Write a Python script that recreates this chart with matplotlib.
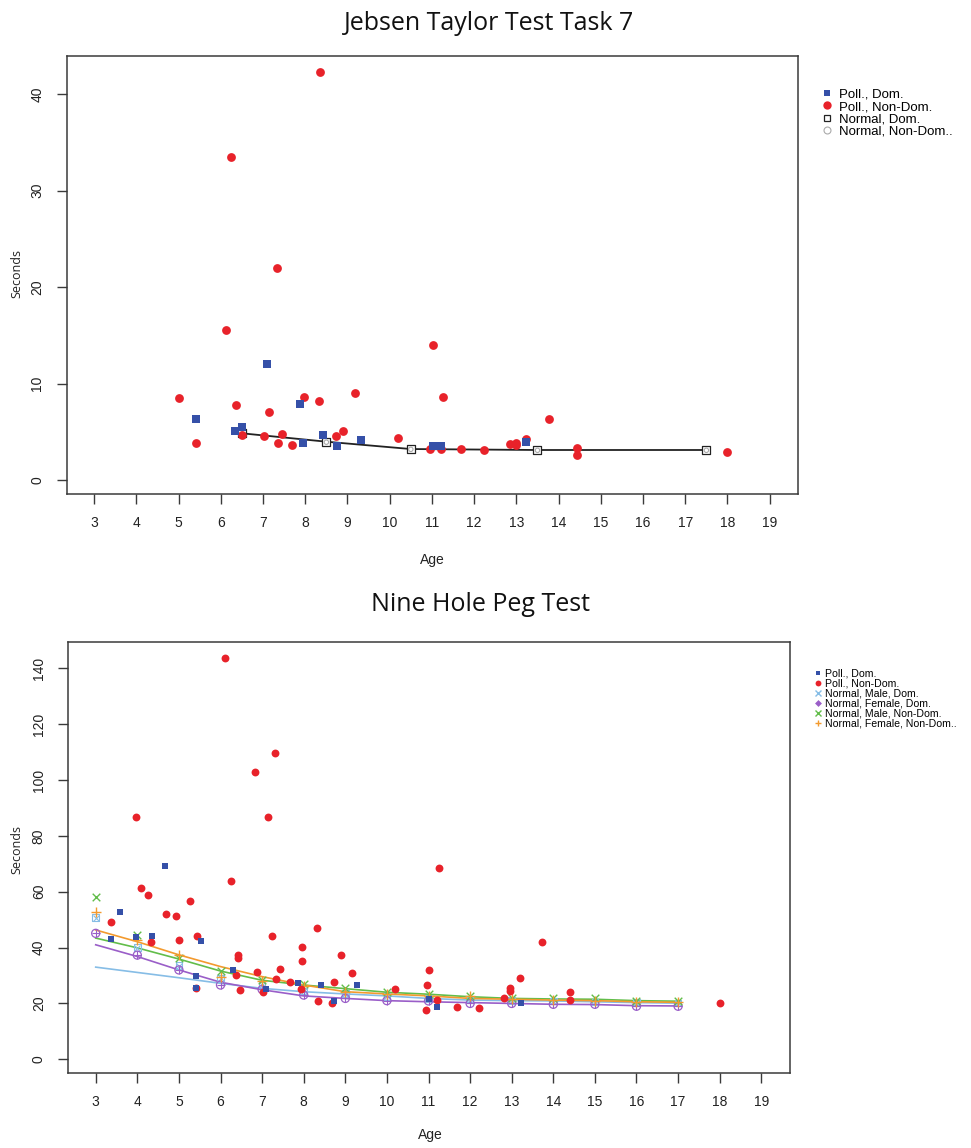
import matplotlib
matplotlib.use("Agg")
import matplotlib.pyplot as plt
from matplotlib.lines import Line2D

# ---------------- data: Jebsen Taylor Test Task 7 ----------------
jt_poll_dom_age = [7.10, 5.42, 7.87, 6.33, 6.49, 8.43, 7.95, 8.74, 9.33, 11.03, 11.22, 13.23]
jt_poll_dom_sec = [12.06, 6.29, 7.84, 5.11, 5.46, 4.70, 3.83, 3.49, 4.18, 3.49, 3.49, 3.91]

jt_poll_nondom_age = [8.36, 6.25, 7.32, 6.12, 11.02, 5.01, 11.26, 7.96, 8.32, 9.17, 6.35, 7.15,
                      5.42, 6.49, 7.02, 7.44, 7.35, 7.68, 8.73, 8.90, 10.19, 10.96, 11.22, 11.69,
                      12.23, 12.85, 12.99, 12.98, 13.23, 13.77, 14.44, 14.44, 17.99]
jt_poll_nondom_sec = [42.25, 33.47, 21.93, 15.58, 14.02, 8.46, 8.57, 8.57, 8.15, 8.98, 7.74, 7.08,
                      3.87, 4.66, 4.56, 4.80, 3.83, 3.59, 4.56, 5.08, 4.39, 3.21, 3.21, 3.25,
                      3.11, 3.69, 3.80, 3.60, 4.21, 6.29, 3.28, 2.56, 2.90]

jt_norm_age = [6.5, 8.5, 10.5, 13.5, 17.5]
jt_norm_dom_sec = [4.84, 3.97, 3.21, 3.11, 3.11]
jt_norm_nondom_sec = [4.75, 3.92, 3.18, 3.08, 3.08]

# ---------------- data: Nine Hole Peg Test ----------------
nh_poll_dom_age = [4.66, 3.59, 3.36, 3.97, 4.35, 5.54, 6.31, 5.41, 5.42, 7.86, 7.10, 8.42,
                   8.73, 9.29, 11.02, 11.20, 13.22]
nh_poll_dom_sec = [69.1, 52.6, 43.2, 43.7, 44.3, 42.2, 32.1, 29.7, 25.7, 27.3, 25.3, 26.6,
                   21.0, 26.6, 21.7, 18.6, 20.3]

nh_poll_nondom_age = [6.10, 7.32, 6.83, 3.97, 7.14, 6.25, 4.10, 4.25, 5.26, 4.70, 4.92, 3.36,
                      8.31, 7.24, 5.44, 4.34, 5.01, 7.96, 6.43, 6.42, 8.89, 7.96, 7.42, 6.88,
                      9.17, 6.38, 7.34, 7.66, 7.94, 6.48, 7.01, 8.34, 8.69, 5.42, 8.74,
                      11.26, 10.19, 11.02, 10.96, 10.93, 11.21, 11.68, 12.22, 13.74, 13.21,
                      12.97, 12.96, 12.82, 14.41, 14.41, 18.0]
nh_poll_nondom_sec = [143.8, 109.8, 102.9, 86.9, 86.9, 63.8, 61.2, 59.0, 56.7, 52.0, 51.4, 49.0,
                      47.1, 44.3, 44.3, 42.1, 42.6, 40.2, 37.2, 36.2, 37.2, 35.2, 32.2, 31.1,
                      31.0, 30.2, 28.8, 27.8, 25.3, 24.8, 24.2, 21.0, 20.3, 25.7, 27.6,
                      68.6, 25.3, 31.9, 26.5, 17.8, 21.2, 18.6, 18.3, 41.9, 29.2,
                      25.7, 24.6, 22.1, 24.2, 21.2, 20.3]

nh_norm_age = [3, 4, 5, 6, 7, 8, 9, 10, 11, 12, 13, 14, 15, 16, 17]
nh_male_dom_pts = [50.7, 40.0, 33.5, 29.0, 26.5, 24.5, 23.5, 22.5, 21.8, 21.2, 21.0, 20.9, 20.6, 20.3, 20.1]
nh_female_dom_pts = [45.1, 37.3, 32.0, 26.6, 25.0, 23.0, 21.8, 21.0, 20.9, 20.0, 20.0, 19.7, 19.7, 19.0, 19.0]
nh_male_nondom_pts = [58.0, 44.5, 36.2, 31.6, 28.3, 26.8, 25.4, 24.0, 23.3, 22.7, 21.8, 22.1, 22.1, 20.9, 20.9]
nh_female_nondom_pts = [52.9, 42.7, 37.4, 29.6, 28.0, 26.3, 24.2, 23.4, 22.5, 22.7, 21.5, 21.2, 21.0, 20.6, 20.4]

nh_male_dom_fit = [33.0, 31.1, 29.2, 27.2, 25.4, 24.2, 23.4, 22.7, 21.8, 21.2, 21.0, 20.9, 20.6, 20.3, 20.1]
nh_female_dom_fit = [41.0, 36.8, 32.0, 27.6, 24.9, 22.7, 21.8, 21.0, 20.6, 20.3, 20.0, 19.7, 19.6, 19.2, 19.1]
nh_male_nondom_fit = [43.4, 39.9, 35.9, 31.6, 28.3, 26.6, 25.3, 24.0, 23.3, 22.4, 21.8, 21.6, 21.5, 21.0, 20.8]
nh_female_nondom_fit = [46.3, 42.1, 37.4, 33.2, 29.6, 26.6, 24.2, 23.4, 22.7, 21.8, 21.5, 21.2, 21.0, 20.6, 20.4]

x_ticks = list(range(3, 20))
jt_y_ticks = [0, 10, 20, 30, 40]
nh_y_ticks = [0, 20, 40, 60, 80, 100, 120, 140]

# ---------------- styles ----------------
BLUE = "#3550a8"
RED = "#e8222a"
LBLUE = "#86bde6"
PURPLE = "#9a5ec8"
GREEN = "#62bd4a"
ORANGE = "#f39a2e"
SPINE = "#3a3a3a"
TICKFONT = "Liberation Sans"
TITLEFONT = "Open Sans"

W, H = 971, 1148
fig = plt.figure(figsize=(W / 100, H / 100), dpi=100)


def px_axes(l, t, r, b):
    return fig.add_axes([l / W, 1 - b / H, (r - l) / W, (b - t) / H])


def style_axes(ax, yticks):
    for s in ax.spines.values():
        s.set_color(SPINE)
        s.set_linewidth(1.1)
    ax.set_xticks(x_ticks)
    ax.set_yticks(yticks)
    ax.tick_params(direction="out", length=7, width=1.0, color=SPINE, labelsize=10,
                   labelcolor="#222222")
    ax.tick_params(axis="x", pad=9)
    ax.tick_params(axis="y", pad=9)
    for lab in ax.get_xticklabels() + ax.get_yticklabels():
        lab.set_fontfamily(TICKFONT)
    for lab in ax.get_yticklabels():
        lab.set_rotation(90)
        lab.set_va("center")


# ---------------- top panel ----------------
ax1 = px_axes(66.7, 55.7, 798, 494)
ax1.set_xlim(2.35, 19.67)
ax1.set_ylim(-1.45, 43.97)
ax1.plot(jt_norm_age, jt_norm_dom_sec, color="#222222", lw=1.3, zorder=2)
ax1.scatter(jt_norm_age, jt_norm_dom_sec, marker="s", s=26, facecolors="white",
            edgecolors="#222222", linewidths=0.9, zorder=3)
ax1.scatter(jt_norm_age, jt_norm_nondom_sec, marker="o", s=10, facecolors="none",
            edgecolors="#aaaaaa", linewidths=0.8, zorder=3)
ax1.scatter(jt_poll_nondom_age, jt_poll_nondom_sec, marker="o", s=40, color=RED,
            linewidths=0, zorder=4)
ax1.scatter(jt_poll_dom_age, jt_poll_dom_sec, marker="s", s=30, color=BLUE,
            linewidths=0, zorder=5)
style_axes(ax1, jt_y_ticks)

h1 = [Line2D([], [], ls="", marker="s", ms=5, color=BLUE, mew=0),
      Line2D([], [], ls="", marker="o", ms=6, color=RED, mew=0),
      Line2D([], [], ls="", marker="s", ms=5, mfc="white", mec="#222222", mew=0.9),
      Line2D([], [], ls="", marker="o", ms=5, mfc="white", mec="#aaaaaa", mew=0.8)]
l1 = ["Poll., Dom.", "Poll., Non-Dom.", "Normal, Dom.", "Normal, Non-Dom.."]
fig.legend(h1, l1, loc="upper left", bbox_to_anchor=(815 / W, 1 - 82 / H),
           frameon=False, borderpad=0, handlelength=0.75, handletextpad=0.6,
           labelspacing=0.0, prop={"family": TICKFONT, "size": 9.5})

fig.text(489 / W, 1 - 23 / H, "Jebsen Taylor Test Task 7", ha="center", va="center",
         fontsize=18, fontfamily=TITLEFONT, color="#111111")
fig.text(432 / W, 1 - 560 / H, "Age", ha="center", va="center", fontsize=10,
         fontfamily=TICKFONT, color="#222222")
fig.text(17 / W, 1 - 273 / H, "Seconds", ha="center", va="center", rotation=90,
         fontsize=9, fontfamily=TITLEFONT, color="#222222")

# ---------------- bottom panel ----------------
ax2 = px_axes(68, 641.7, 790, 1073)
ax2.set_xlim(2.334, 19.69)
ax2.set_ylim(-4.9, 149.5)
ax2.plot(nh_norm_age, nh_male_dom_fit, color=LBLUE, lw=1.2, zorder=2)
ax2.plot(nh_norm_age, nh_female_dom_fit, color=PURPLE, lw=1.2, zorder=2)
ax2.plot(nh_norm_age, nh_male_nondom_fit, color=GREEN, lw=1.2, zorder=2)
ax2.plot(nh_norm_age, nh_female_nondom_fit, color=ORANGE, lw=1.2, zorder=2)

ax2.scatter(nh_norm_age, nh_male_dom_pts, marker="s", s=22, facecolors="none",
            edgecolors=LBLUE, linewidths=0.8, zorder=3)
ax2.scatter(nh_norm_age, nh_male_dom_pts, marker="x", s=18, color=LBLUE,
            linewidths=0.8, zorder=3)
ax2.scatter(nh_norm_age, nh_female_dom_pts, marker="o", s=34, facecolors="none",
            edgecolors=PURPLE, linewidths=0.9, zorder=3)
ax2.scatter(nh_norm_age, nh_female_dom_pts, marker="+", s=30, color=PURPLE,
            linewidths=0.8, zorder=3)
ax2.scatter(nh_norm_age, nh_male_nondom_pts, marker="x", s=30, color=GREEN,
            linewidths=1.0, zorder=3)
ax2.scatter(nh_norm_age, nh_female_nondom_pts, marker="+", s=44, color=ORANGE,
            linewidths=1.0, zorder=3)

ax2.scatter(nh_poll_nondom_age, nh_poll_nondom_sec, marker="o", s=32, color=RED,
            linewidths=0, zorder=4)
ax2.scatter(nh_poll_dom_age, nh_poll_dom_sec, marker="s", s=22, color=BLUE,
            linewidths=0, zorder=5)
style_axes(ax2, nh_y_ticks)

h2 = [Line2D([], [], ls="", marker="s", ms=3.2, color=BLUE, mew=0),
      Line2D([], [], ls="", marker="o", ms=4.2, color=RED, mew=0),
      Line2D([], [], ls="", marker="x", ms=4, color=LBLUE, mew=1.0),
      Line2D([], [], ls="", marker="D", ms=3.5, color=PURPLE, mew=0),
      Line2D([], [], ls="", marker="x", ms=4, color=GREEN, mew=1.0),
      Line2D([], [], ls="", marker="+", ms=5, color=ORANGE, mew=1.0)]
l2 = ["Poll., Dom.", "Poll., Non-Dom.", "Normal, Male, Dom.", "Normal, Female, Dom.",
      "Normal, Male, Non-Dom.", "Normal, Female, Non-Dom.."]
fig.legend(h2, l2, loc="upper left", bbox_to_anchor=(810 / W, 1 - 663 / H),
           frameon=False, borderpad=0, handlelength=0.6, handletextpad=0.35,
           labelspacing=0.0, prop={"family": TICKFONT, "size": 7.6})

fig.text(480 / W, 1 - 605 / H, "Nine Hole Peg Test", ha="center", va="center",
         fontsize=18, fontfamily=TITLEFONT, color="#111111")
fig.text(430 / W, 1 - 1135 / H, "Age", ha="center", va="center", fontsize=10,
         fontfamily=TICKFONT, color="#222222")
fig.text(17 / W, 1 - 850 / H, "Seconds", ha="center", va="center", rotation=90,
         fontsize=9, fontfamily=TITLEFONT, color="#222222")

fig.savefig("out.png", dpi=100)
